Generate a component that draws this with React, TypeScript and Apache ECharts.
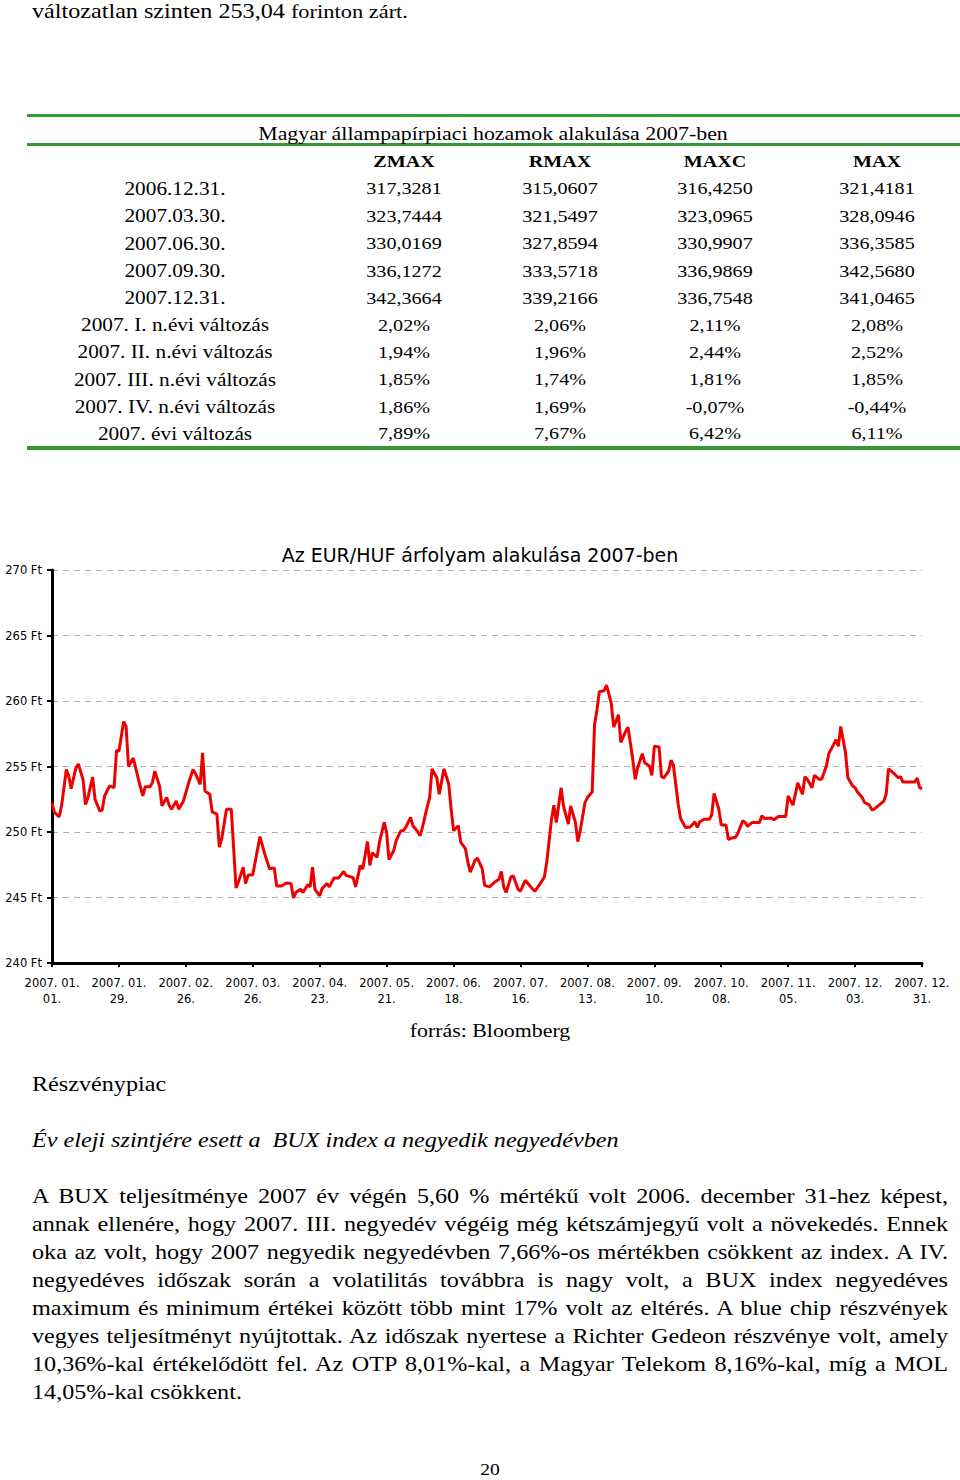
import React, { useEffect, useRef } from "react";
import * as echarts from "echarts";

// ---------- DATA ----------
const dayOffsets = [
  0, 1, 3, 4, 6, 7, 8, 10, 11, 13, 14, 15, 17, 18, 20, 21, 22, 24, 26, 27, 28, 30, 31, 32, 34, 35, 36, 38, 39, 41,
  42, 43, 45, 46, 48, 49, 50, 52, 53, 55, 57, 59, 60, 62, 63, 64, 66, 67, 69, 70, 71, 73, 75, 77, 78, 80, 81, 82, 84, 87,
  89, 91, 93, 94, 96, 98, 100, 101, 102, 104, 105, 107, 108, 109, 110, 112, 113, 115, 116, 118, 120, 122, 123, 126, 127, 129, 130, 132, 133, 134,
  136, 137, 139, 140, 141, 143, 144, 146, 147, 148, 150, 151, 153, 154, 155, 157, 158, 159, 161, 162, 164, 166, 167, 168, 170, 171, 173, 174, 175, 177,
  178, 180, 181, 183, 185, 187, 188, 189, 190, 192, 193, 195, 196, 198, 200, 202, 204, 206, 207, 209, 210, 211, 213, 214, 216, 217, 219, 220, 221, 223,
  224, 226, 227, 228, 229, 231, 232, 234, 235, 237, 238, 240, 241, 243, 244, 245, 247, 248, 250, 251, 252, 254, 255, 256, 258, 259, 260, 262, 263, 265,
  267, 269, 270, 271, 273, 275, 276, 277, 279, 280, 282, 283, 284, 286, 287, 289, 290, 291, 293, 296, 297, 298, 301, 302, 304, 307, 308, 310, 311, 312,
  314, 315, 316, 318, 319, 321, 322, 324, 325, 327, 328, 329, 330, 332, 333, 335, 336, 337, 339, 340, 342, 343, 344, 346, 348, 349, 350, 352, 354, 355,
  356, 358, 361, 362, 363, 364,
];

const eurHuf = [
  252.25, 251.49, 251.16, 252.0, 254.77, 254.27, 253.31, 254.87, 255.2, 254.0, 252.1, 252.6, 254.2, 252.5, 251.6, 251.67, 252.75, 253.5, 253.4, 256.24,
  256.16, 258.43, 258.06, 255.0, 255.65, 254.9, 254.14, 252.75, 253.46, 253.46, 253.76, 254.65, 253.5, 252.0, 252.63, 252.05, 251.74, 252.37, 251.74, 252.37,
  253.64, 254.77, 254.47, 253.64, 256.04, 253.13, 252.88, 251.54, 251.36, 248.84, 249.47, 251.74, 251.74, 245.73, 246.19, 247.32, 246.06, 246.69, 246.74, 249.65,
  248.33, 247.2, 247.25, 245.88, 245.88, 246.1, 246.06, 244.97, 245.38, 245.63, 245.38, 245.98, 245.81, 247.32, 245.63, 245.13, 245.68, 246.06, 245.81, 246.49,
  246.49, 246.99, 246.69, 246.52, 245.81, 247.45, 247.15, 249.27, 247.45, 248.41, 248.08, 249.22, 250.73, 249.97, 247.9, 248.59, 249.34, 250.1, 250.1, 250.35,
  251.11, 250.48, 250.03, 249.72, 250.35, 251.94, 252.63, 254.82, 254.14, 252.88, 254.82, 253.64, 251.74, 250.1, 250.48, 249.22, 248.71, 247.7, 246.94, 247.83,
  248.0, 247.2, 245.93, 245.81, 246.14, 246.39, 246.99, 245.81, 245.38, 246.57, 246.64, 245.63, 245.48, 246.31, 245.88, 245.48, 245.98, 246.57, 247.7, 250.98,
  252.05, 250.73, 253.38, 251.99, 250.61, 251.99, 250.73, 249.27, 250.1, 252.25, 252.63, 253.06, 258.18, 259.32, 260.71, 260.78, 261.21, 259.82, 258.0, 258.94,
  256.84, 257.68, 258.0, 255.53, 254.02, 254.9, 255.98, 255.28, 255.03, 254.32, 256.54, 256.49, 254.22, 254.14, 254.65, 255.48, 255.08, 252.12, 251.04, 250.35,
  250.38, 250.78, 250.35, 250.78, 250.98, 250.98, 251.29, 252.95, 251.74, 250.53, 250.53, 249.42, 249.52, 249.6, 249.92, 250.86, 250.73, 250.43, 250.73, 250.73,
  251.24, 251.04, 251.06, 250.93, 251.19, 251.19, 252.75, 252.05, 252.88, 253.76, 252.88, 254.22, 254.02, 253.38, 254.32, 254.02, 254.02, 255.03, 255.98, 256.67,
  257.05, 256.54, 258.06, 256.04, 254.14, 253.51, 253.38, 253.06, 252.63, 252.25, 252.05, 251.69, 251.74, 252.05, 252.35, 252.88, 254.82, 254.52, 254.14, 254.22,
  253.81, 253.81, 253.81, 254.12, 253.38, 253.3,
];

const chartTitle = "Az EUR/HUF árfolyam alakulása 2007-ben";
const yMin = 240;
const yMax = 270;
const yStep = 5;
const xMaxDay = 364;
const xStepDays = 28;

const tableTitle = "Magyar állampapírpiaci hozamok alakulása 2007-ben";
const tableColumns = ["ZMAX", "RMAX", "MAXC", "MAX"];
const rowLabels = [
  "2006.12.31.",
  "2007.03.30.",
  "2007.06.30.",
  "2007.09.30.",
  "2007.12.31.",
  "2007. I. n.évi változás",
  "2007. II. n.évi változás",
  "2007. III. n.évi változás",
  "2007. IV. n.évi változás",
  "2007. évi változás",
];
const zmaxValues = ["317,3281", "323,7444", "330,0169", "336,1272", "342,3664", "2,02%", "1,94%", "1,85%", "1,86%", "7,89%"];
const rmaxValues = ["315,0607", "321,5497", "327,8594", "333,5718", "339,2166", "2,06%", "1,96%", "1,74%", "1,69%", "7,67%"];
const maxcValues = ["316,4250", "323,0965", "330,9907", "336,9869", "336,7548", "2,11%", "2,44%", "1,81%", "-0,07%", "6,42%"];
const maxValues = ["321,4181", "328,0946", "336,3585", "342,5680", "341,0465", "2,08%", "2,52%", "1,85%", "-0,44%", "6,11%"];

const topLineMain = "változatlan szinten 253,04 ";
const topLineTail = "forinton zárt.";
const sourceText = "forrás: Bloomberg";
const sectionTitle = "Részvénypiac";
const subTitle = "Év eleji szintjére esett a  BUX index a negyedik negyedévben";
const paragraphLines = [
  "A BUX teljesítménye 2007 év végén 5,60 % mértékű volt 2006. december 31-hez képest,",
  "annak ellenére, hogy 2007. III. negyedév végéig még kétszámjegyű volt a növekedés.  Ennek",
  "oka az volt, hogy 2007 negyedik negyedévben 7,66%-os mértékben csökkent az index.  A IV.",
  "negyedéves időszak során a volatilitás továbbra is nagy volt, a BUX index negyedéves",
  "maximum és minimum értékei között több mint 17% volt az eltérés. A  blue chip részvények",
  "vegyes teljesítményt nyújtottak. Az időszak nyertese a Richter Gedeon részvénye volt, amely",
  "10,36%-kal értékelődött fel. Az OTP 8,01%-kal, a Magyar Telekom 8,16%-kal, míg a MOL",
  "14,05%-kal csökkent.",
];
const pageNumber = "20";

// ---------- LAYOUT HELPERS ----------
const SERIF = "'Liberation Serif', 'DejaVu Serif', serif";
const SX = 1.15;

type TxtProps = {
  x: number;
  base: number;
  size: number;
  align?: "left" | "center";
  bold?: boolean;
  italic?: boolean;
  children: React.ReactNode;
};

function Txt({ x, base, size, align = "left", bold, italic, children }: TxtProps) {
  const top = base - 0.8375 * size;
  const style: React.CSSProperties = {
    position: "absolute",
    top,
    fontSize: size,
    lineHeight: `${size}px`,
    fontFamily: SERIF,
    fontWeight: bold ? 700 : 400,
    fontStyle: italic ? "italic" : "normal",
    whiteSpace: "pre",
    color: "#000",
    transform: `scaleX(${SX})`,
  };
  if (align === "center") {
    style.left = x - 300;
    style.width = 600;
    style.textAlign = "center";
    style.transformOrigin = "center";
  } else {
    style.left = x;
    style.transformOrigin = "left";
  }
  return <div style={style}>{children}</div>;
}

function GreenRule({ top, h }: { top: number; h: number }) {
  return (
    <div style={{ position: "absolute", left: 27, top, width: 933, height: h, background: "#339933" }} />
  );
}

const dayStart = Date.UTC(2007, 0, 1);
function dayLabel(d: number): string {
  const dt = new Date(dayStart + d * 86400000);
  const m = String(dt.getUTCMonth() + 1).padStart(2, "0");
  const dd = String(dt.getUTCDate()).padStart(2, "0");
  return `${dt.getUTCFullYear()}. ${m}.\n${dd}.`;
}

function EurHufChart() {
  const ref = useRef<HTMLDivElement>(null);
  useEffect(() => {
    if (!ref.current) return;
    const chart = echarts.init(ref.current, null, { renderer: "svg" });
    const font = "DejaVu Sans";
    chart.setOption({
      animation: false,
      title: {
        text: chartTitle,
        left: "center",
        top: 0,
        textStyle: { fontFamily: font, fontSize: 19, fontWeight: "normal", color: "#000" },
      },
      grid: { left: 52, right: 38, top: 30, bottom: 57 },
      xAxis: {
        type: "value",
        min: 0,
        max: xMaxDay,
        interval: xStepDays,
        axisLine: { show: true, lineStyle: { color: "#000", width: 3 } },
        axisTick: { show: true, length: 4, lineStyle: { color: "#000", width: 2 } },
        axisLabel: {
          formatter: (v: number) => dayLabel(v),
          fontFamily: font,
          fontSize: 11.5,
          color: "#000",
          lineHeight: 16,
          margin: 12,
          showMinLabel: true,
          showMaxLabel: true,
        },
        splitLine: { show: false },
      },
      yAxis: {
        type: "value",
        min: yMin,
        max: yMax,
        interval: yStep,
        axisLine: { show: true, lineStyle: { color: "#000", width: 3 } },
        axisTick: { show: true, length: 5, lineStyle: { color: "#000", width: 2 } },
        axisLabel: {
          formatter: "{value} Ft",
          fontFamily: font,
          fontSize: 11.5,
          color: "#000",
          margin: 10,
        },
        splitLine: { show: true, lineStyle: { color: "#b0b0b0", width: 1, type: [6, 5] } },
      },
      series: [
        {
          type: "line",
          data: dayOffsets.map((d, i) => [d, eurHuf[i]]),
          showSymbol: false,
          symbol: "none",
          lineStyle: { color: "#ee0000", width: 3 },
          itemStyle: { color: "#ee0000" },
        },
      ],
    });
    return () => chart.dispose();
  }, []);
  return <div ref={ref} style={{ position: "absolute", left: 0, top: 540, width: 960, height: 480 }} />;
}

export default function App() {
  const colCenters = [404, 560, 715, 877];
  const colData = [zmaxValues, rmaxValues, maxcValues, maxValues];
  const rowBases = [195, 222.3, 250, 277.3, 304.3, 331.7, 358.7, 386, 413.3, 440];
  const paraBases = [1204, 1232, 1260, 1288, 1316, 1344, 1372, 1400];

  return (
    <div
      style={{
        position: "absolute",
        left: 0,
        top: 0,
        width: 960,
        height: 1480,
        background: "#fff",
        overflow: "hidden",
      }}
    >
      {/* first text line */}
      <div
        style={{
          position: "absolute",
          left: 32,
          top: 18.5 - 0.8375 * 21,
          fontSize: 21,
          lineHeight: "21px",
          fontFamily: SERIF,
          whiteSpace: "pre",
          transform: `scaleX(${SX})`,
          transformOrigin: "left",
        }}
      >
        {topLineMain}
        <span style={{ fontSize: 19.5 }}>{topLineTail}</span>
      </div>

      {/* table */}
      <GreenRule top={114} h={3} />
      <GreenRule top={143} h={3} />
      <GreenRule top={446} h={4} />
      <Txt x={493} base={139.5} size={19} align="center">
        {tableTitle}
      </Txt>
      {tableColumns.map((c, i) => (
        <Txt key={c} x={colCenters[i]} base={168} size={17.5} align="center" bold>
          {c}
        </Txt>
      ))}
      {rowLabels.map((lab, r) => (
        <Txt key={lab} x={175} base={rowBases[r]} size={18.5} align="center">
          {lab}
        </Txt>
      ))}
      {colData.map((col, c) =>
        col.map((v, r) => (
          <Txt key={`${c}-${r}`} x={colCenters[c]} base={rowBases[r]} size={17.5} align="center">
            {v}
          </Txt>
        ))
      )}

      {/* chart */}
      <EurHufChart />

      <Txt x={490} base={1037} size={19} align="center">
        {sourceText}
      </Txt>
      <Txt x={32} base={1092} size={21}>
        {sectionTitle}
      </Txt>
      <Txt x={32} base={1148} size={21} italic>
        {subTitle}
      </Txt>

      {paragraphLines.map((line, i) => {
        const last = i === paragraphLines.length - 1;
        return (
          <div
            key={i}
            style={{
              position: "absolute",
              left: 32,
              top: paraBases[i] - 0.8375 * 21,
              width: 916 / SX,
              fontSize: 21,
              lineHeight: "21px",
              fontFamily: SERIF,
              whiteSpace: "nowrap",
              textAlign: last ? "left" : "justify",
              textAlignLast: last ? "left" : "justify",
              transform: `scaleX(${SX})`,
              transformOrigin: "left",
              color: "#000",
            }}
          >
            {line}
          </div>
        );
      })}

      <Txt x={490} base={1475} size={17} align="center">
        {pageNumber}
      </Txt>
    </div>
  );
}
